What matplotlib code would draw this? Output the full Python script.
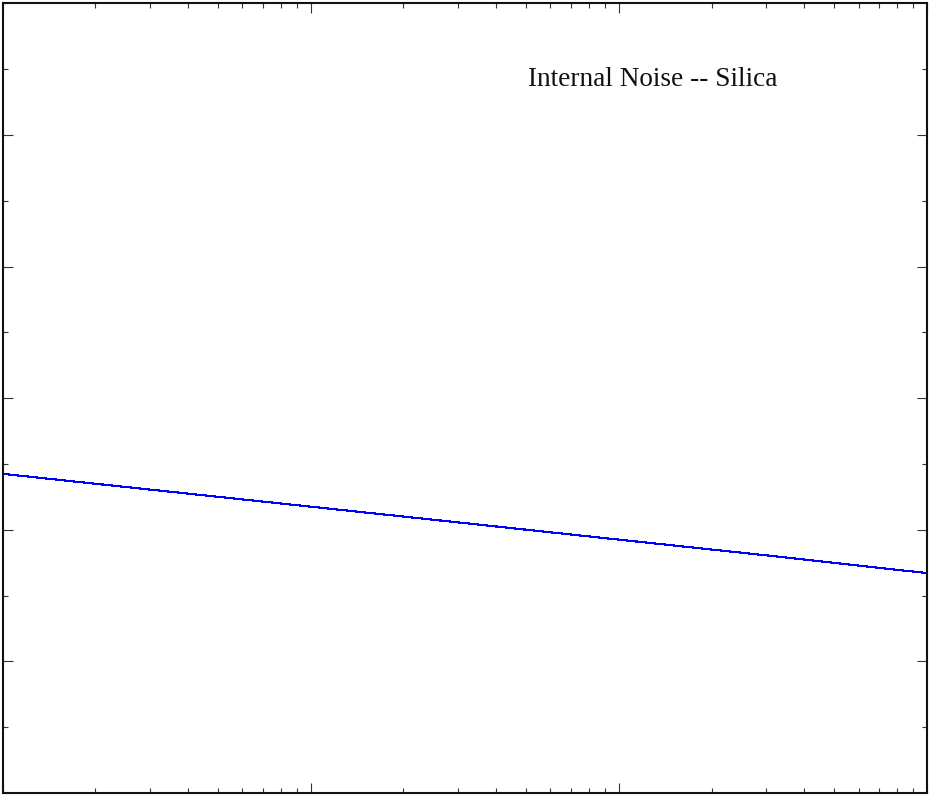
"""Internal thermal noise of a silica test mass versus frequency."""

import matplotlib

matplotlib.use("Agg")
import matplotlib.pyplot as plt
from matplotlib.ticker import LogLocator, NullFormatter

# frequency (Hz) and displacement noise (m/rtHz)
freq = [1.0, 3.0, 10.0, 30.0, 100.0, 300.0, 1000.0]
noise = [7.1e-20, 4.1e-20, 2.25e-20, 1.3e-20, 7.1e-21, 4.1e-21, 2.2e-21]

y_major = [1e-22, 1e-20, 1e-18, 1e-16, 1e-14]
y_minor = [1e-23, 1e-21, 1e-19, 1e-17, 1e-15, 1e-13]

title = "Internal Noise -- Silica"


def main() -> None:
    fig = plt.figure(figsize=(9.3, 7.96), dpi=100)
    ax = fig.add_axes([2.5 / 930, 3.0 / 796, 924.5 / 930, 789.5 / 796])

    ax.plot(freq, noise, color="#0000ff", linewidth=0.8, antialiased=False)

    ax.set_xscale("log")
    ax.set_yscale("log")
    ax.set_xlim(1.0, 1000.0)
    ax.set_ylim(1e-24, 1e-12)

    ax.xaxis.set_major_locator(LogLocator(base=10))
    ax.xaxis.set_minor_locator(LogLocator(base=10, subs=range(2, 10)))
    ax.set_yticks(y_major)
    ax.set_yticks(y_minor, minor=True)
    for axis in (ax.xaxis, ax.yaxis):
        axis.set_major_formatter(NullFormatter())
        axis.set_minor_formatter(NullFormatter())

    ax.tick_params(which="both", direction="in", top=True, right=True,
                   color="#333333", width=0.8)
    ax.tick_params(which="major", length=7)
    ax.tick_params(which="minor", length=3.5)
    for spine in ax.spines.values():
        spine.set_linewidth(1.5)
        spine.set_color("#111111")

    ax.text(0.568, 0.904, title, transform=ax.transAxes, ha="left",
            va="center", fontsize=19.6, family="Liberation Serif",
            color="#111111")

    fig.savefig("out.png", dpi=100)
    plt.close(fig)


if __name__ == "__main__":
    main()
